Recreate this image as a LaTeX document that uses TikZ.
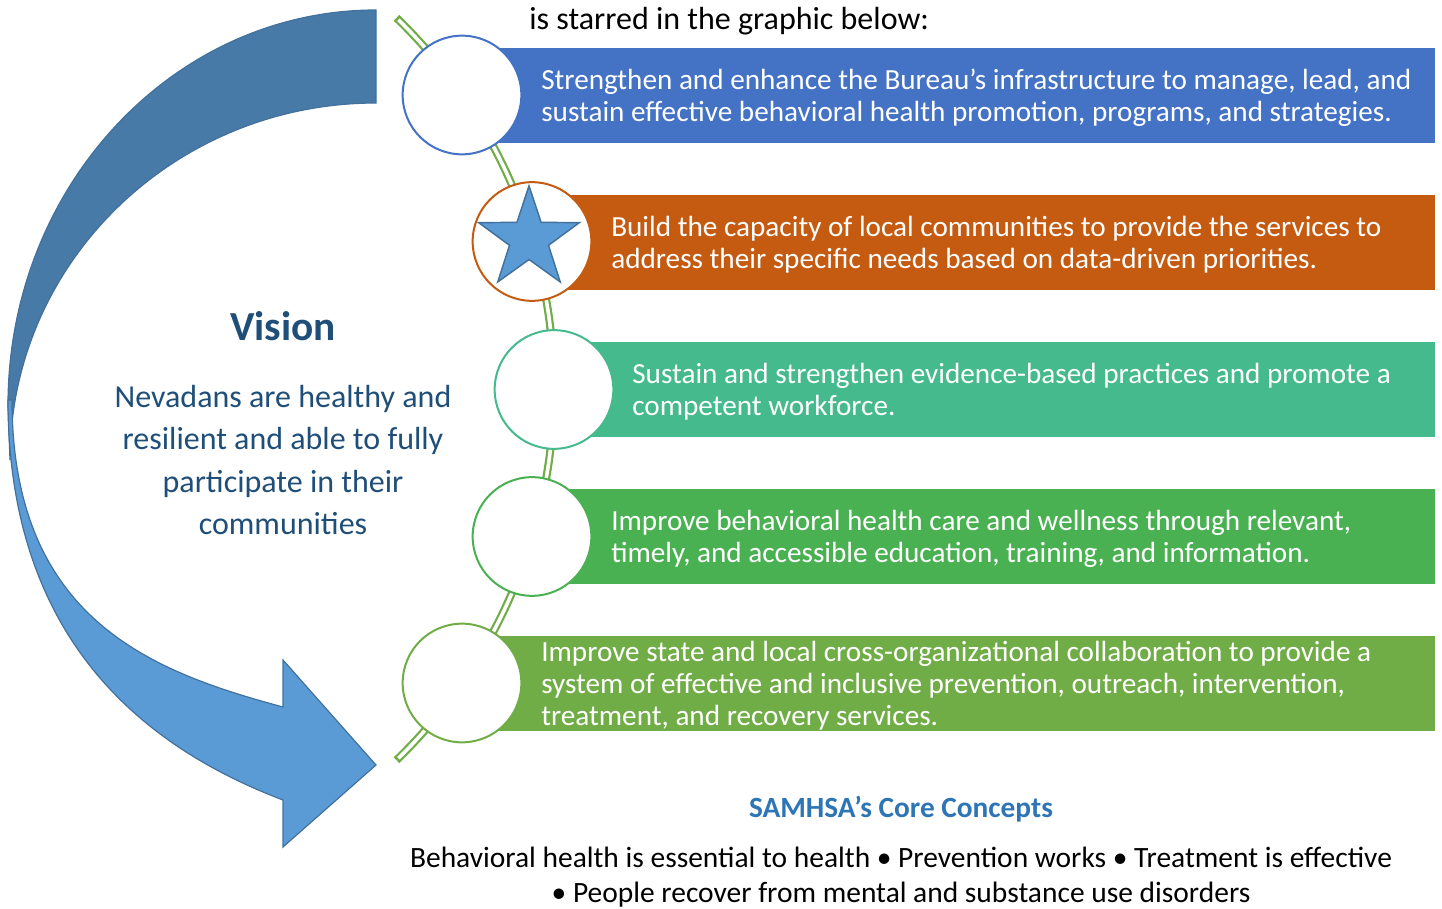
\documentclass[tikz,border=0pt]{standalone}
\usepackage{fontspec}
\setmainfont{Carlito}
\definecolor{goalblue}{HTML}{4472C4}
\definecolor{goalorange}{HTML}{C55A11}
\definecolor{goalteal}{HTML}{45BA8C}
\definecolor{goalgreen}{HTML}{4AB152}
\definecolor{goallime}{HTML}{70AD47}
\definecolor{arrowdark}{HTML}{487AA8}
\definecolor{arrowlight}{HTML}{5B9BD5}
\definecolor{arrowline}{HTML}{41719C}
\definecolor{visionblue}{HTML}{1F4E79}
\definecolor{conceptblue}{HTML}{2E75B6}
\begin{document}
\begin{tikzpicture}[x=0.75pt,y=-0.75pt,
  goal/.style={circle, draw=#1, fill=white, line width=1.5pt, minimum size=89pt, inner sep=0pt},
  goalbar/.style={fill=#1},
  bartext/.style={anchor=base west, align=left, text=white, inner sep=0pt,
                  font=\fontsize{21.9}{24}\selectfont},
  plain/.style={inner sep=0pt}]
\useasboundingbox (0,0) rectangle (1442,909);

% curved arrow: darker back band, lighter front band with head
\filldraw[fill=arrowdark, draw=arrowline, line width=0.9pt]
  (376,10) .. controls (173,10) and (8,187) .. (8,405) -- (10,460)
  .. controls (10,263) and (174,103) .. (376,103) -- cycle;
\filldraw[fill=arrowlight, draw=arrowline, line width=0.9pt]
  (8,400) .. controls (8,630) and (133,743) .. (283,800) -- (283,847) -- (376,765)
  -- (283,660) -- (283,707) .. controls (153,672) and (12,620) .. (12,400) -- cycle;

% hollow arc linking the goal circles
\coordinate (linktop) at (396,18);
\coordinate (linkbot) at (396,760);
\draw[goallime, line width=6pt] plot[domain=-46:46, samples=120] ({38+516*cos(\x)},{389+516*sin(\x)});
\draw[white, line width=2.7pt] plot[domain=-45.7:45.7, samples=120] ({38+516*cos(\x)},{389+516*sin(\x)});

% goal bars
\fill[goalbar=goalblue]   (462,48)  rectangle (1435,143);
\fill[goalbar=goalorange] (532,195) rectangle (1435,290);
\fill[goalbar=goalteal]   (554,342) rectangle (1435,437);
\fill[goalbar=goalgreen]  (532,489) rectangle (1435,584);
\fill[goalbar=goallime]   (462,636) rectangle (1435,731);

% goal circles
\node[goal=goalblue]   (g1) at (462,95) {};
\node[goal=goalorange] (g2) at (532,241.5) {};
\node[goal=goalteal]   (g3) at (554,389.5) {};
\node[goal=goalgreen]  (g4) at (532,536.5) {};
\node[goal=goallime]   (g5) at (462,683) {};

% star marking the second goal
\filldraw[fill=arrowlight, draw=arrowline, line width=1.1pt, line join=miter]
  (529,186) -- (541.1,222.4) -- (579.4,222.6) -- (548.5,245.3) -- (560.2,281.9)
  -- (529,259.5) -- (497.8,281.9) -- (509.5,245.3) -- (478.6,222.6) -- (516.9,222.4) -- cycle;

% goal texts (anchored on the baseline of their last line)
\node[bartext] (t1) at (541,121.5) {Strengthen and enhance the Bureau’s infrastructure to manage, lead, and\\sustain effective behavioral health promotion, programs, and strategies.};
\node[bartext] (t2) at (611,268.5) {Build the capacity of local communities to provide the services to\\address their specific needs based on data-driven priorities.};
\node[bartext] (t3) at (632,415.5) {Sustain and strengthen evidence-based practices and promote a\\competent workforce.};
\node[bartext] (t4) at (611,562.5) {Improve behavioral health care and wellness through relevant,\\timely, and accessible education, training, and information.};
\node[bartext] (t5) at (541,725.5) {Improve state and local cross-organizational collaboration to provide a\\system of effective and inclusive prevention, outreach, intervention,\\treatment, and recovery services.};

% heading line
\node[plain, anchor=base west, font=\fontsize{24}{28}\selectfont] (head) at (529,29.5) {is starred in the graphic below:};

% vision statement
\node[plain, anchor=base, text=visionblue, font=\bfseries\fontsize{31}{36}\selectfont] (vtitle) at (283,340) {Vision};
\node[plain, anchor=base, align=center, text=visionblue, font=\fontsize{24}{31.7}\selectfont] (vtext) at (283,534.5)
  {Nevadans are healthy and\\resilient and able to fully\\participate in their\\communities};

% core concepts
\node[plain, anchor=base, text=conceptblue, font=\bfseries\fontsize{22}{26}\selectfont] (ctitle) at (901,817) {SAMHSA’s Core Concepts};
\node[plain, anchor=base, align=center, font=\fontsize{22.1}{26}\selectfont] (ctext) at (901,902.5)
  {Behavioral health is essential to health • Prevention works • Treatment is effective\\• People recover from mental and substance use disorders};
\end{tikzpicture}
\end{document}
